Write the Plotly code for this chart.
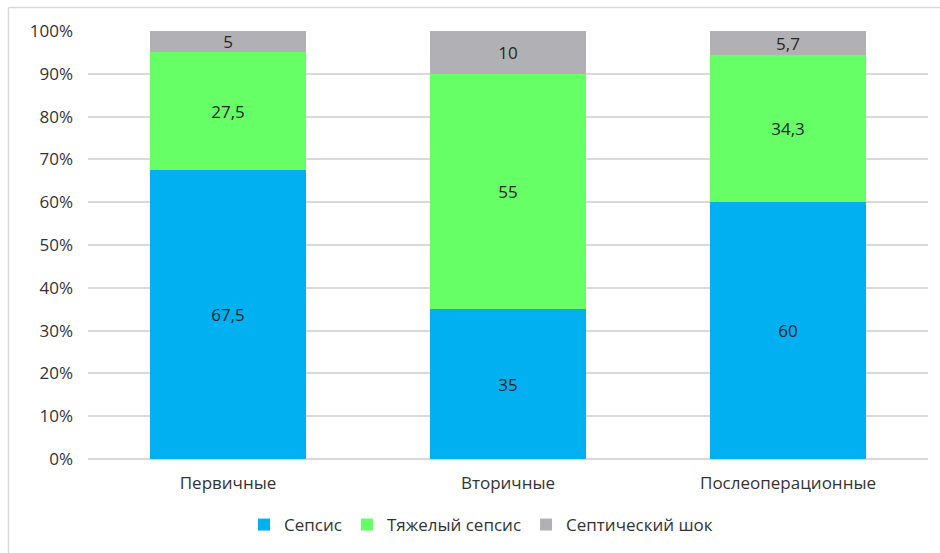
import plotly.graph_objects as go

# Sepsis severity distribution by type of peritonitis (percent)
categories = ["Первичные", "Вторичные", "Послеоперационные"]
sepsis = [67.5, 35, 60]
severe_sepsis = [27.5, 55, 34.3]
septic_shock = [5, 10, 5.7]

series = [
    ("Сепсис", sepsis, "#00B0F0"),
    ("Тяжелый сепсис", severe_sepsis, "#66FF66"),
    ("Септический шок", septic_shock, "#B1B1B5"),
]

FONT = "Open Sans"
SIZE = 17


def fmt(v):
    # decimal comma, no trailing zeros
    return f"{v:g}".replace(".", ",")


fig = go.Figure()
for name, values, color in series:
    fig.add_trace(go.Bar(
        x=categories,
        y=values,
        name=name,
        text=[fmt(v) for v in values],
        marker=dict(color=color, line=dict(width=0)),
        texttemplate="%{text}",
        textposition="inside",
        insidetextanchor="middle",
        textangle=0,
        constraintext="none",
        textfont=dict(family=FONT, size=SIZE, color="#262626"),
        hoverinfo="skip",
    ))

W, H = 940, 553
L, R, T, B = 88, 12, 31, 94
pw, ph = W - L - R, H - T - B


def px(x):
    return (x - L) / pw


def py(y):
    return (H - B - y) / ph


fig.update_layout(
    width=W,
    height=H,
    barmode="stack",
    bargap=0.446,
    separators=",.",
    margin=dict(l=L, r=R, t=T, b=B, autoexpand=False),
    paper_bgcolor="white",
    plot_bgcolor="white",
    font=dict(family=FONT, size=SIZE, color="#333333"),
    xaxis=dict(
        showgrid=False,
        showline=False,
        ticks="",
        automargin=False,
        ticklabelstandoff=12,
        tickfont=dict(family=FONT, size=SIZE, color="#333333"),
    ),
    yaxis=dict(
        range=[0, 100],
        dtick=10,
        ticksuffix="%",
        showgrid=True,
        gridcolor="#D9D9D9",
        gridwidth=1.5,
        zeroline=True,
        zerolinecolor="#D9D9D9",
        zerolinewidth=1.5,
        ticks="",
        automargin=False,
        ticklabelstandoff=14,
        tickfont=dict(family=FONT, size=SIZE, color="#333333"),
    ),
    legend=dict(
        orientation="h",
        x=px(481),
        xanchor="center",
        y=py(525),
        yanchor="middle",
        font=dict(family=FONT, size=SIZE, color="#333333"),
        itemwidth=30,
        traceorder="normal",
    ),
    shapes=[
        dict(type="line", xref="paper", yref="paper",
             x0=px(8.5), x1=px(8.5), y0=py(7.5), y1=py(560),
             line=dict(color="#D9D9D9", width=1.5)),
        dict(type="line", xref="paper", yref="paper",
             x0=px(8.5), x1=px(945), y0=py(7.5), y1=py(7.5),
             line=dict(color="#D9D9D9", width=1.5)),
    ],
)

fig.write_html("out.html")
